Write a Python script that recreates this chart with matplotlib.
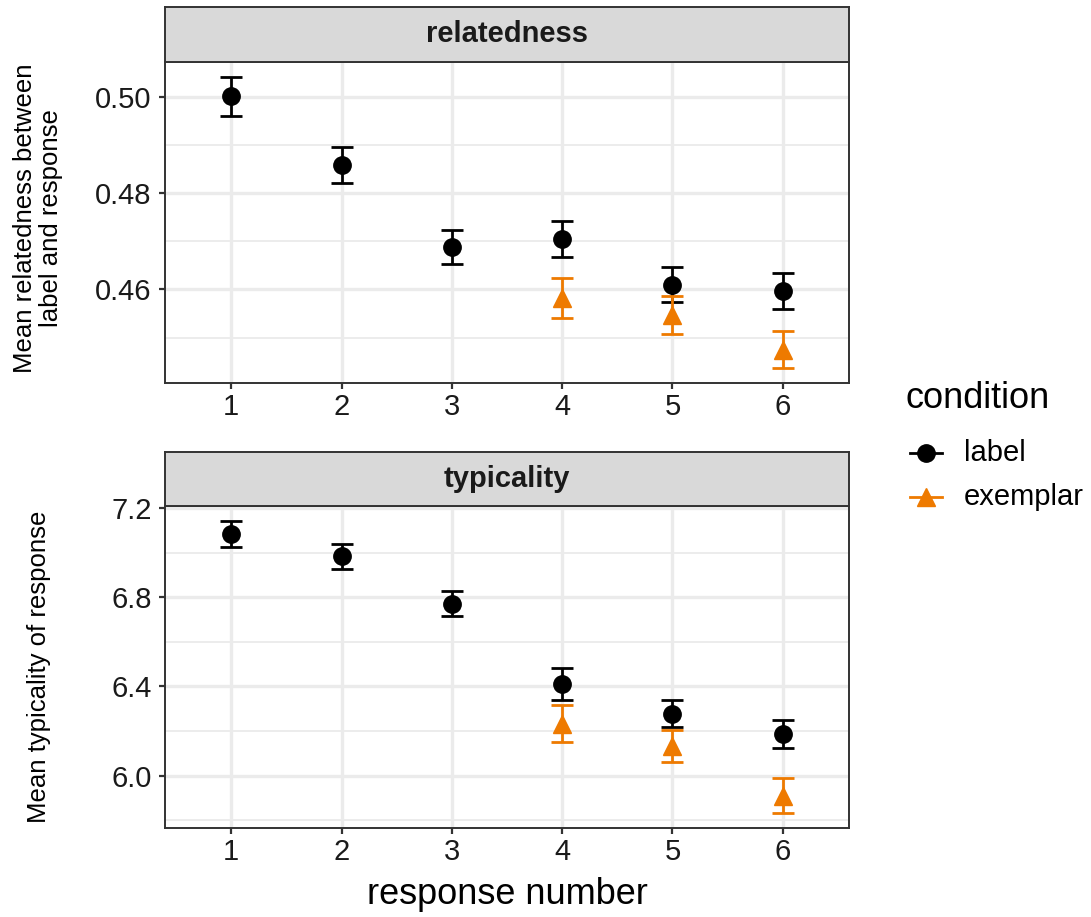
import numpy as np
import matplotlib.pyplot as plt
from matplotlib.lines import Line2D
from matplotlib.ticker import MultipleLocator

plt.rcParams['font.family'] = ['Liberation Sans', 'DejaVu Sans']

# data
response = [1, 2, 3, 4, 5, 6]
exemplar_resp = [4, 5, 6]

rel_label = [0.5001, 0.4859, 0.4688, 0.4705, 0.4610, 0.4597]
rel_label_se = [0.0041, 0.0037, 0.0036, 0.0037, 0.0037, 0.0037]
rel_exemplar = [0.4582, 0.4547, 0.4475]
rel_exemplar_se = [0.0042, 0.0039, 0.0039]

typ_label = [7.084, 6.984, 6.771, 6.410, 6.278, 6.187]
typ_label_se = [0.059, 0.056, 0.057, 0.071, 0.060, 0.061]
typ_exemplar = [6.232, 6.133, 5.911]
typ_exemplar_se = [0.083, 0.070, 0.080]

conditions = ['label', 'exemplar']

W, H = 1091, 917
ORANGE = '#EE7A00'
DARK = '#333333'
GRID = '#EBEBEB'

fig = plt.figure(figsize=(W / 100, H / 100), dpi=100)


def px_axes(left, top, right, bottom):
    return fig.add_axes([left / W, 1 - bottom / H, (right - left) / W, (bottom - top) / H])


def strip(left, top, right, bottom, label):
    s = px_axes(left, top, right, bottom)
    s.set_facecolor('#D9D9D9')
    s.set_xticks([])
    s.set_yticks([])
    for sp in s.spines.values():
        sp.set_color(DARK)
        sp.set_linewidth(1.4)
    s.text(0.5, 0.5, label, ha='center', va='center', fontsize=21,
           fontweight='bold', color='#1A1A1A', transform=s.transAxes)


def panel(ax, lab, lab_se, ex, ex_se, major, minor, fmt):
    ax.errorbar(response, lab, yerr=lab_se, fmt='o', color='black', ms=12.5,
                capsize=8, elinewidth=2, capthick=2, zorder=3)
    ax.errorbar(exemplar_resp, ex, yerr=ex_se, fmt='^', color=ORANGE, ms=13.5,
                capsize=8, elinewidth=2, capthick=2, zorder=3)
    lo = min(np.min(np.array(lab) - lab_se), np.min(np.array(ex) - ex_se))
    hi = max(np.max(np.array(lab) + lab_se), np.max(np.array(ex) + ex_se))
    pad = (hi - lo) * 0.05
    ax.set_ylim(lo - pad, hi + pad)
    ax.set_xlim(0.4, 6.6)
    ax.set_xticks(response)
    ax.yaxis.set_major_locator(MultipleLocator(major))
    ax.yaxis.set_minor_locator(MultipleLocator(minor))
    ax.yaxis.set_major_formatter(fmt)
    ax.grid(which='major', color=GRID, lw=2.4)
    ax.grid(which='minor', axis='y', color=GRID, lw=1.3)
    ax.set_axisbelow(True)
    ax.tick_params(which='minor', length=0)
    ax.tick_params(which='major', labelsize=21, length=4.5, width=1.6,
                   color=DARK, labelcolor='#1A1A1A')
    ax.tick_params(axis='x', pad=3)
    ax.tick_params(axis='y', pad=5)
    for sp in ax.spines.values():
        sp.set_color(DARK)
        sp.set_linewidth(1.4)


ax1 = px_axes(165, 62, 849, 383)
panel(ax1, rel_label, rel_label_se, rel_exemplar, rel_exemplar_se,
      0.02, 0.01, '{x:.2f}')
strip(165, 7, 849, 62, 'relatedness')

ax2 = px_axes(165, 506, 849, 828)
panel(ax2, typ_label, typ_label_se, typ_exemplar, typ_exemplar_se,
      0.4, 0.2, '{x:.1f}')
strip(165, 452, 849, 506, 'typicality')

fig.text(38 / W, 1 - 218 / H, 'Mean relatedness between\nlabel and response',
         rotation=90, ha='center', va='center', fontsize=18.5, linespacing=1.15)
fig.text(39 / W, 1 - 667 / H, 'Mean typicality of response',
         rotation=90, ha='center', va='center', fontsize=18.5)
fig.text(507 / W, 1 - 895 / H, 'response number', ha='center', va='center',
         fontsize=26)

# legend drawn by hand to match ggplot spacing
fig.text(905 / W, 1 - 398 / H, 'condition', ha='left', va='center', fontsize=26)
styles = [('o', 'black', 12.5), ('^', ORANGE, 13.5)]
for i, (name, (mk, col, ms)) in enumerate(zip(conditions, styles)):
    yc = 1 - (453 + 44 * i) / H
    fig.add_artist(Line2D([910 / W, 942 / W], [yc, yc], color=col, lw=2,
                          transform=fig.transFigure))
    fig.add_artist(Line2D([926 / W], [yc], color=col, marker=mk, ms=ms,
                          transform=fig.transFigure))
    fig.text(964 / W, yc, name, ha='left', va='center', fontsize=21)

fig.savefig('out.png', dpi=100)
